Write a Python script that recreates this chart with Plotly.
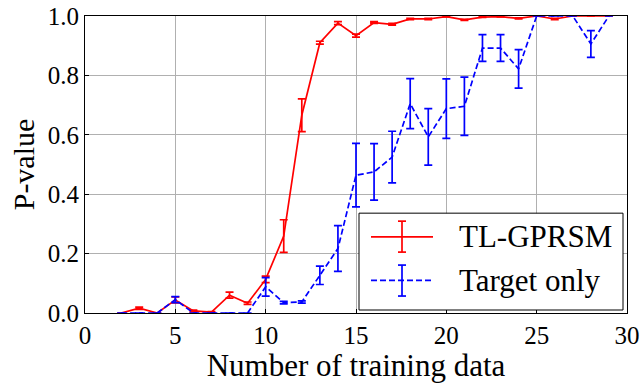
import plotly.graph_objects as go

# Number of training data
n_train = list(range(2, 30))

# TL-GPRSM: mean P-value and error
tl_mean = [0.0, 0.016, 0.0, 0.044, 0.007, 0.003, 0.06, 0.033, 0.113, 0.259, 0.666,
           0.91, 0.976, 0.934, 0.978, 0.972, 0.99, 0.99, 0.998, 0.987, 0.996, 0.998,
           0.992, 1.0, 0.99, 1.0, 1.0, 1.0]
tl_err = [0.0, 0.004, 0.0, 0.01, 0.003, 0.002, 0.01, 0.004, 0.011, 0.055, 0.055,
          0.005, 0.005, 0.005, 0.003, 0.003, 0.002, 0.002, 0.001, 0.002, 0.001, 0.001,
          0.002, 0.0, 0.002, 0.0, 0.0, 0.0]

# Target only: mean P-value and error
to_mean = [0.0, 0.0, 0.0, 0.045, 0.0, 0.0, 0.0, 0.0, 0.088, 0.035, 0.037,
           0.127, 0.217, 0.464, 0.475, 0.525, 0.705, 0.593, 0.688, 0.696, 0.892, 0.892,
           0.822, 1.0, 1.0, 1.0, 0.906, 1.0]
to_err = [0.0, 0.0, 0.0, 0.01, 0.0, 0.0, 0.0, 0.0, 0.031, 0.004, 0.004,
          0.031, 0.077, 0.107, 0.095, 0.087, 0.084, 0.095, 0.1, 0.098, 0.045, 0.045,
          0.065, 0.0, 0.0, 0.0, 0.045, 0.0]

series_names = ["TL-GPRSM", "Target only"]
x_ticks = [0, 5, 10, 15, 20, 25, 30]
y_ticks = [0.0, 0.2, 0.4, 0.6, 0.8, 1.0]

FONT = "Times New Roman, Liberation Serif, DejaVu Serif, serif"
RED = "#ff0000"
BLUE = "#0000ff"

fig = go.Figure()

fig.add_trace(go.Scatter(
    x=n_train, y=tl_mean, mode="lines", name=series_names[0],
    line=dict(color=RED, width=1.7),
    error_y=dict(type="data", array=tl_err, visible=True, color=RED,
                 thickness=1.7, width=4),
    showlegend=False, cliponaxis=False,
))
fig.add_trace(go.Scatter(
    x=n_train, y=to_mean, mode="lines", name=series_names[1],
    line=dict(color=BLUE, width=1.7, dash="6px,3px"),
    error_y=dict(type="data", array=to_err, visible=True, color=BLUE,
                 thickness=1.7, width=4),
    showlegend=False, cliponaxis=False,
))

# Legend drawn in paper coordinates: framed box, sample lines with error bars, labels
L, T, B = 85, 15.5, 313
W, H = 627 - 85, 313 - 15.5


def px(xp):
    return (xp - L) / W


def py(yp):
    return (B - yp) / H


shapes = [dict(type="rect", xref="paper", yref="paper",
               x0=px(359), x1=px(623), y0=py(310), y1=py(213),
               line=dict(color="black", width=1), fillcolor="white", layer="above")]
legend_rows = [(series_names[0], RED, "solid", 236.7, 221, 252),
               (series_names[1], BLUE, "6px,3px", 280.3, 265, 296)]
annotations = []
for name, col, dash, yc, y0, y1 in legend_rows:
    shapes.append(dict(type="line", xref="paper", yref="paper",
                       x0=px(371), x1=px(433), y0=py(yc), y1=py(yc),
                       line=dict(color=col, width=1.7, dash=dash), layer="above"))
    shapes.append(dict(type="line", xref="paper", yref="paper",
                       x0=px(402), x1=px(402), y0=py(y0), y1=py(y1),
                       line=dict(color=col, width=1.7), layer="above"))
    for yy in (y0, y1):
        shapes.append(dict(type="line", xref="paper", yref="paper",
                           x0=px(398), x1=px(406), y0=py(yy), y1=py(yy),
                           line=dict(color=col, width=1.7), layer="above"))
    annotations.append(dict(xref="paper", yref="paper", x=px(457), y=py(yc),
                            xanchor="left", yanchor="middle", text=name,
                            showarrow=False, font=dict(family=FONT, size=31, color="black")))

axis_common = dict(
    showgrid=True, gridcolor="#b0b0b0", gridwidth=1,
    showline=True, linecolor="black", linewidth=1.2, mirror=True,
    ticks="inside", ticklen=4, tickcolor="black",
    tickfont=dict(family=FONT, size=25, color="black"),
    zeroline=False, automargin=False,
)

fig.update_layout(
    width=642, height=383,
    margin=dict(l=85, r=15, t=15.5, b=70),
    paper_bgcolor="white", plot_bgcolor="white",
    font=dict(family=FONT, color="black"),
    xaxis=dict(range=[0, 30], tickvals=x_ticks, ticktext=[str(v) for v in x_ticks],
               title=dict(text="Number of training data",
                          font=dict(family=FONT, size=31, color="black"), standoff=2),
               **axis_common),
    yaxis=dict(range=[0, 1.0], tickvals=y_ticks, ticktext=[f"{v:.1f}" for v in y_ticks],
               title=dict(text="P-value",
                          font=dict(family=FONT, size=30, color="black"), standoff=4),
               **axis_common),
    shapes=shapes,
    annotations=annotations,
)

fig.write_html("out.html")
